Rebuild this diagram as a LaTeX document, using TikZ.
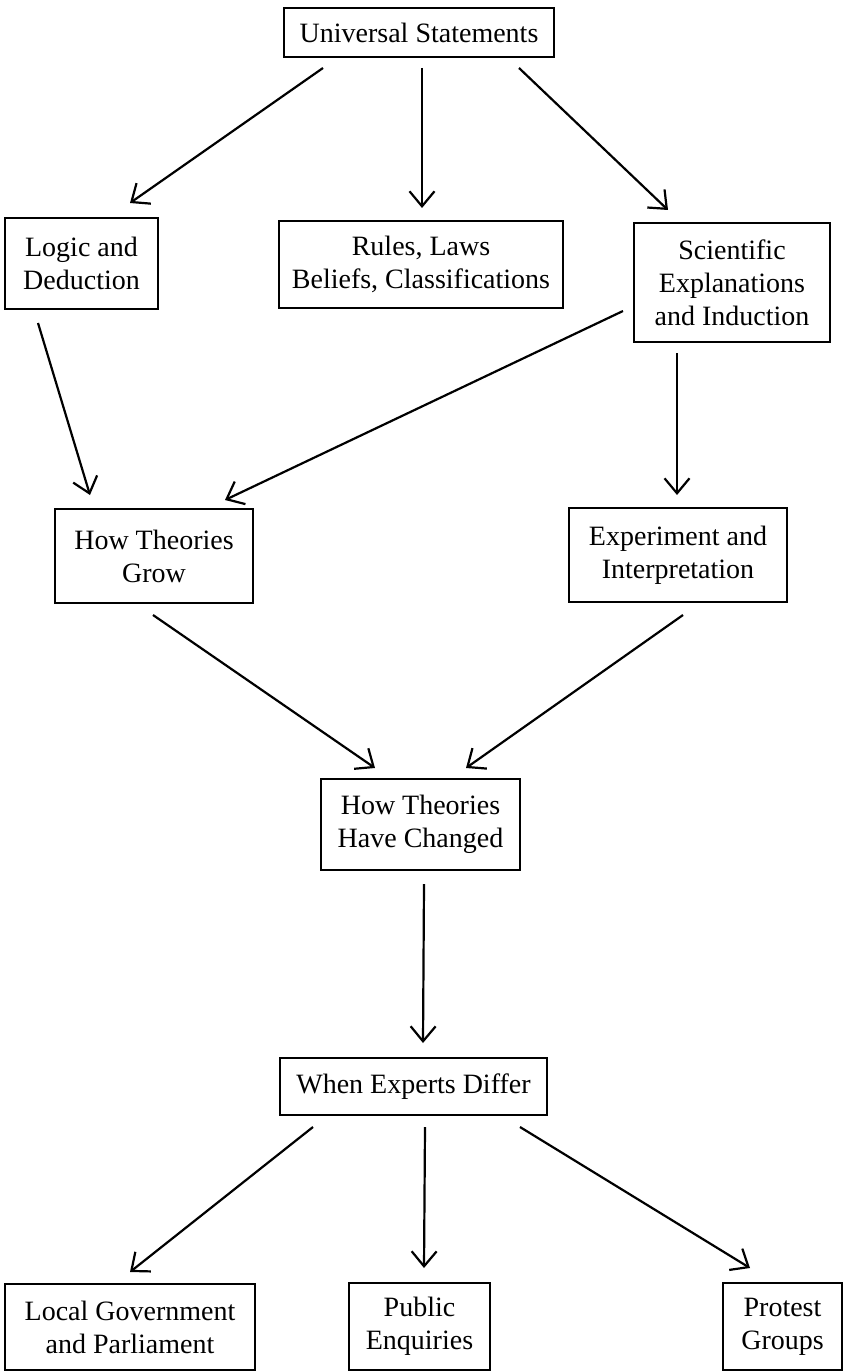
\documentclass[tikz,border=0pt]{standalone}
\usepackage{fontspec}
\setmainfont{Liberation Serif}
\usetikzlibrary{arrows.meta}
\begin{document}
\begin{tikzpicture}[x=1pt,y=-1pt,
  topic/.style={draw, line width=2.4pt, align=center, inner sep=0pt,
    font=\fontsize{28}{33}\selectfont},
  link/.style={line width=2.2pt, -{Straight Barb[length=15pt,width=25pt,line width=2.2pt]}}]
\useasboundingbox (0,0) rectangle (844,1372);

% topic boxes
\node[topic, minimum width=270pt, minimum height=49pt] (us) at (419,32.5) {Universal Statements};
\node[topic, minimum width=153pt, minimum height=91pt] (logic) at (81.5,263.5) {Logic and\\Deduction};
\node[topic, minimum width=284pt, minimum height=87pt] (rules) at (421,264.5) {Rules, Laws\\Beliefs, Classifications};
\node[topic, minimum width=196pt, minimum height=119pt] (sci) at (732,282.5) {Scientific\\Explanations\\and Induction};
\node[topic, minimum width=198pt, minimum height=94pt] (grow) at (154,556) {How Theories\\Grow};
\node[topic, minimum width=218pt, minimum height=94pt] (exp) at (678,555) {Experiment and\\Interpretation};
\node[topic, minimum width=199pt, minimum height=91pt] (changed) at (420.5,824.5) {How Theories\\Have Changed};
\node[topic, minimum width=267pt, minimum height=57pt] (experts) at (413.5,1086.5) {When Experts Differ};
\node[topic, minimum width=250pt, minimum height=86pt] (local) at (130,1327) {Local Government\\and Parliament};
\node[topic, minimum width=141pt, minimum height=87pt] (public) at (419.5,1326.5) {Public\\Enquiries};
\node[topic, minimum width=119pt, minimum height=87pt] (protest) at (782.5,1326.5) {Protest\\Groups};

% connector ends
\coordinate (us-a) at (323,68);   \coordinate (logic-in) at (130,203);
\coordinate (us-b) at (422,68);   \coordinate (rules-in) at (422,208);
\coordinate (us-c) at (519,68);   \coordinate (sci-in) at (668,210);
\coordinate (logic-out) at (38,323);  \coordinate (grow-in1) at (90,495);
\coordinate (sci-out1) at (623,311);  \coordinate (grow-in2) at (225,500);
\coordinate (sci-out2) at (677,353);  \coordinate (exp-in) at (677,495);
\coordinate (grow-out) at (153,615);  \coordinate (changed-in1) at (375,768);
\coordinate (exp-out) at (683,615);   \coordinate (changed-in2) at (466,768);
\coordinate (changed-out) at (424,884); \coordinate (experts-in) at (423,1043);
\coordinate (experts-a) at (313,1127); \coordinate (local-in) at (130,1272);
\coordinate (experts-b) at (425,1127); \coordinate (public-in) at (424,1268);
\coordinate (experts-c) at (520,1127); \coordinate (protest-in) at (750,1268);

% connectors
\draw[link] (us-a) -- (logic-in);
\draw[link] (us-b) -- (rules-in);
\draw[link] (us-c) -- (sci-in);
\draw[link] (logic-out) -- (grow-in1);
\draw[link] (sci-out1) -- (grow-in2);
\draw[link] (sci-out2) -- (exp-in);
\draw[link] (grow-out) -- (changed-in1);
\draw[link] (exp-out) -- (changed-in2);
\draw[link] (changed-out) -- (experts-in);
\draw[link] (experts-a) -- (local-in);
\draw[link] (experts-b) -- (public-in);
\draw[link] (experts-c) -- (protest-in);
\end{tikzpicture}
\end{document}
